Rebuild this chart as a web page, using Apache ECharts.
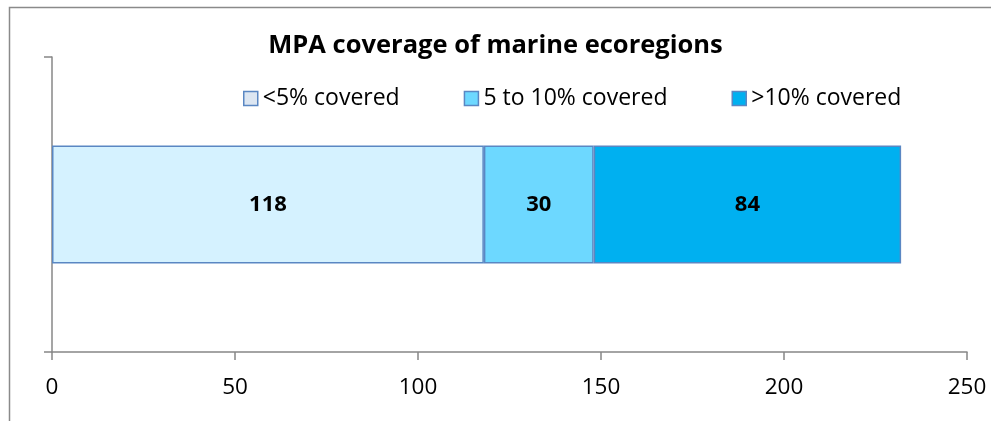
<!DOCTYPE html>
<html>
<head>
<meta charset="utf-8">
<script src="https://cdn.jsdelivr.net/npm/echarts@6/dist/echarts.min.js"></script>
<style>html,body{margin:0;padding:0;background:#fff;}#c{width:991px;height:421px;}</style>
</head>
<body>
<div id="c"></div>
<script>
const title = 'MPA coverage of marine ecoregions';
const categories = [''];
const seriesNames = ['<5% covered', '5 to 10% covered', '>10% covered'];
const below5 = [118];
const from5to10 = [30];
const above10 = [84];
const xTicks = [0, 50, 100, 150, 200, 250];

const colors = ['#D5F2FF', '#6DD8FF', '#00B0F0'];
const legendFills = ['#DCE6F2', '#6DD8FF', '#00B0F0'];
const borderCol = '#5A87C3';
const font = '"Open Sans", sans-serif';

const chart = echarts.init(document.getElementById('c'), null, {renderer: 'canvas'});
const values = [below5, from5to10, above10];
chart.setOption({
  animation: false,
  backgroundColor: '#fff',
  title: {
    text: title, left: 'center', top: 28,
    textStyle: {fontFamily: font, fontWeight: 'bold', fontSize: 25.5, color: '#000'}
  },
  legend: {
    left: 238, top: 82, itemWidth: 14, itemHeight: 14, itemGap: 64,
    icon: 'rect',
    textStyle: {fontFamily: font, fontSize: 23, color: '#000', padding: [0, 0, 0, 0]},
    data: seriesNames.map((n, i) => ({name: n, itemStyle: {color: legendFills[i], borderColor: borderCol, borderWidth: 1.5}}))
  },
  grid: {left: 52, right: 24, top: 57, bottom: 69, containLabel: false},
  xAxis: {
    type: 'value', min: xTicks[0], max: xTicks[xTicks.length - 1], interval: 50,
    axisLine: {show: true, lineStyle: {color: '#878787', width: 1.5}},
    axisTick: {show: true, length: 8, lineStyle: {color: '#878787', width: 1.5}},
    splitLine: {show: false},
    axisLabel: {fontFamily: font, fontSize: 22.5, color: '#000', margin: 24}
  },
  yAxis: {
    type: 'category', data: categories,
    axisLine: {show: true, lineStyle: {color: '#878787', width: 1.5}},
    axisTick: {show: true, length: 8, lineStyle: {color: '#878787', width: 1.5}},
    axisLabel: {show: false}
  },
  series: seriesNames.map((n, i) => ({
    name: n, type: 'bar', stack: 'total', barWidth: '40%',
    data: values[i],
    itemStyle: {color: colors[i], borderColor: borderCol, borderWidth: 1.5},
    label: {show: true, position: 'inside', fontFamily: font, fontWeight: 'bold', fontSize: 22, color: '#000'}
  })),
  graphic: [{
    type: 'rect', left: 7, top: 5, silent: true, z: -1,
    shape: {x: 0, y: 0, width: 1100, height: 600},
    style: {fill: 'none', stroke: '#8A8A8A', lineWidth: 1.5}
  }]
});
</script>
</body>
</html>
